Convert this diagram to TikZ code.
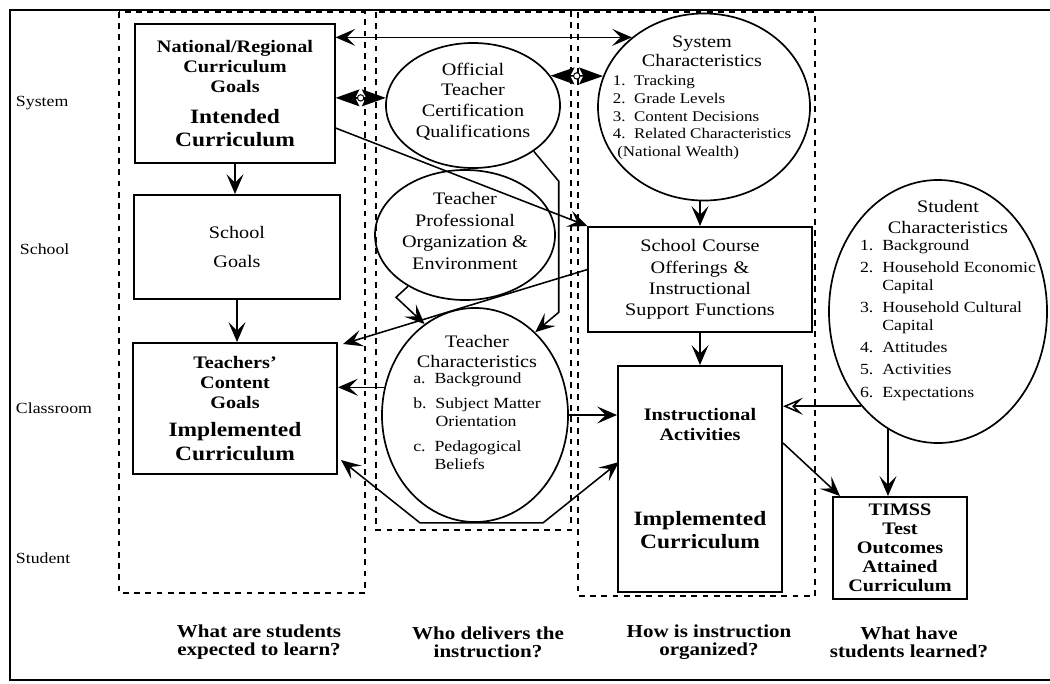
\documentclass[tikz,border=0pt]{standalone}
\usepackage{fontspec}
\setmainfont{Liberation Serif}[FakeStretch=1.15]
\usetikzlibrary{calc,positioning,arrows.meta,shapes.geometric}
\newcommand{\bigcur}{\fontsize{14.5}{16.5}\selectfont}
\newcommand{\listfont}{\fontsize{11}{12.8}\selectfont}
\tikzset{
>={Stealth[length=14pt,width=12pt,inset=6pt]},
outer/.style={line width=0.8pt},
zone/.style={draw, line width=1.2pt, dash pattern=on 4pt off 4pt},
goalbox/.style={rectangle, draw=black, line width=1.4pt, inner xsep=0pt, inner ysep=2pt, align=center, font=\fontsize{12.5}{14.2}\selectfont},
oval/.style={ellipse, draw=black, line width=1.2pt, inner sep=0pt},
ovaltext/.style={align=center, inner sep=0pt, font=\fontsize{12.5}{14.6}\selectfont},
tier/.style={anchor=west, font=\fontsize{11}{13}\selectfont},
question/.style={align=center, font=\fontsize{13}{13}\selectfont\bfseries},
line/.style={draw, line width=1.1pt, ->},
twoway/.style={draw, line width=1.1pt, <->},
hollow/.style={draw, line width=1.1pt, -{Stealth[open,length=14pt,width=12pt,inset=6pt]}},
meet/.style={draw, line width=1.1pt, {Stealth[length=17pt,width=12pt,inset=3pt]}-{Stealth[length=17pt,width=12pt,inset=3pt]}},
hub/.style={circle, draw=black, fill=white, line width=0.7pt, inner sep=1.6pt},
}

\begin{document}
\begin{tikzpicture}[x=0.025cm, y=-0.025cm]
\useasboundingbox (0,0) rectangle (1050,683);

% frame and the three columns
\draw[outer] (1050,10) -- (10,10) -- (10,680) -- (1050,680);
\draw[zone] (119,12) rectangle (365,593);
\draw[zone] (376,12) rectangle (571,530);
\draw[zone] (578,12) rectangle (815,596);

% levels
\node[tier] (system) at (11,103) {System};
\node[tier] (school) at (15,249) {School};
\node[tier] (classroom) at (11,408) {Classroom};
\node[tier] (student) at (11,558) {Student};

% intended curriculum
\node[goalbox, font=\fontsize{12.5}{14.2}\selectfont\bfseries, text width=4.975cm, minimum height=3.475cm] (natl) at (235,93.5)
  {National/Regional\\Curriculum\\Goals\par\vspace{6pt}{\bigcur Intended\\Curriculum\par}};
\node[goalbox, font=\fontsize{12.5}{21}\selectfont, text width=5.15cm, minimum height=2.6cm] (sgoals) at (237,247) {School\\Goals};
\node[goalbox, font=\fontsize{12.5}{14}\selectfont\bfseries, text width=5.1cm, minimum height=3.275cm] (tgoals) at (235,408.5)
  {Teachers'\\Content\\Goals\par\vspace{4pt}{\bigcur Implemented\\Curriculum\par}};

% teachers
\node[oval, minimum width=4.35cm, minimum height=3.125cm] (cert) at (473,105.5) {};
\node[ovaltext] (certtext) at ($(cert)+(0,-4)$) {Official\\Teacher\\Certification\\Qualifications};
\node[oval, minimum width=4.5cm, minimum height=3.25cm] (prof) at (465,235) {};
\node[ovaltext, font=\fontsize{12.5}{15.4}\selectfont] (proftext) at ($(prof)+(0,-4)$) {Teacher\\Professional\\Organization \&\\Environment};
\node[oval, minimum width=4.65cm, minimum height=5.35cm] (tchar) at (475,415) {};
\node[ovaltext] (tchartext) at ($(tchar)+(2,-10)$) {Teacher\\Characteristics\\[1pt]{\listfont\begin{tabular}{@{}l@{}}a.~~Background\\[5pt]b.~~Subject Matter\\\phantom{b.~~}Orientation\\[5pt]c.~~Pedagogical\\\phantom{c.~~}Beliefs\end{tabular}}};

% instruction
\node[oval, minimum width=5.3cm, minimum height=4.675cm] (syschar) at (704,107) {};
\node[ovaltext, font=\fontsize{12.5}{13}\selectfont] (systext) at ($(syschar)+(-2,-8)$) {System\\Characteristics\\[4pt]{\fontsize{10.5}{12.6}\selectfont\begin{tabular}{@{}l@{}}1.~~Tracking\\2.~~Grade Levels\\3.~~Content Decisions\\4.~~Related Characteristics\\\hspace{0.3em}(National Wealth)\end{tabular}}};
\node[goalbox, font=\fontsize{12.5}{15.2}\selectfont, text width=5.575cm, minimum height=2.625cm] (offer) at (700,279.5)
  {School Course\\Offerings \&\\Instructional\\Support Functions};
\node[goalbox, font=\fontsize{12.5}{14}\selectfont\bfseries, text width=4.1cm, minimum height=5.65cm] (instr) at (700,479)
  {Instructional\\Activities\par\vspace{44pt}{\bigcur Implemented\\Curriculum\par}};

% students
\node[oval, minimum width=5.45cm, minimum height=6.575cm] (stuchar) at (938,311.5) {};
\node[ovaltext] (stutext) at ($(stuchar)+(10,-10)$) {Student\\Characteristics\\[2pt]{\listfont\begin{tabular}{@{}l@{}}1.~~Background\\[3pt]2.~~Household Economic\\\phantom{2.~~}Capital\\[3pt]3.~~Household Cultural\\\phantom{3.~~}Capital\\[3pt]4.~~Attitudes\\[3pt]5.~~Activities\\[3pt]6.~~Expectations\end{tabular}}};
\node[goalbox, font=\fontsize{12.5}{13.5}\selectfont\bfseries, text width=3.35cm, minimum height=2.55cm] (timss) at (900,548)
  {TIMSS\\Test\\Outcomes\\Attained\\Curriculum};

% questions
\node[question] (q1) at (259,642) {What are students\\expected to learn?};
\node[question] (q2) at (488,642) {Who delivers the\\instruction?};
\node[question] (q3) at (709,642) {How is instruction\\organized?};
\node[question] (q4) at (909,642) {What have\\students learned?};

% connectors
\draw[twoway] (natl.east |- syschar.136) -- (syschar.136);
\draw[meet] (natl.east |- cert.175) -- (cert.175) node[hub, midway] (hubA) {};
\draw[meet] (cert.21) -- (syschar.163) node[hub, midway] (hubB) {};
\draw[line] ($(natl.south east)+(0,-36)$) -- (offer.north west);
\draw[line] (natl.south) -- (natl.south |- sgoals.north);
\draw[line] (sgoals.south) -- (sgoals.south |- tgoals.north);
\draw[line] (cert.323) -- ++(25,30) -- ++(0,131) -- (tchar.54);
\draw[line] (prof.222) -- ++(-12,11) -- (tchar.119);
\draw[line] ($(offer.west)+(0,-10)$) -- ($(tgoals.north east)+(5,2)$);
\draw[line] (tchar.163) -- (tchar.163 -| tgoals.east);
\draw[line] (tchar.east) -- (tchar.east -| instr.west);
\draw[twoway] ($(tgoals.south east)+(3,-15)$) -- ($(tchar.south)+(-55,0)$) -- ($(tchar.south)+(68,0)$) -- ($(instr.west)+(2,-17)$);
\draw[line] (offer.north |- syschar.south) -- (offer.north);
\draw[line] (offer.south) -- (offer.south |- instr.north);
\draw[hollow] (stuchar.231) -- (stuchar.231 -| instr.east);
\draw[line] ($(instr.east)+(0,-36)$) -- ($(timss.north west)+(8,0)$);
\draw[line] (stuchar.247) -- (stuchar.247 |- timss.north);
\end{tikzpicture}
\end{document}
